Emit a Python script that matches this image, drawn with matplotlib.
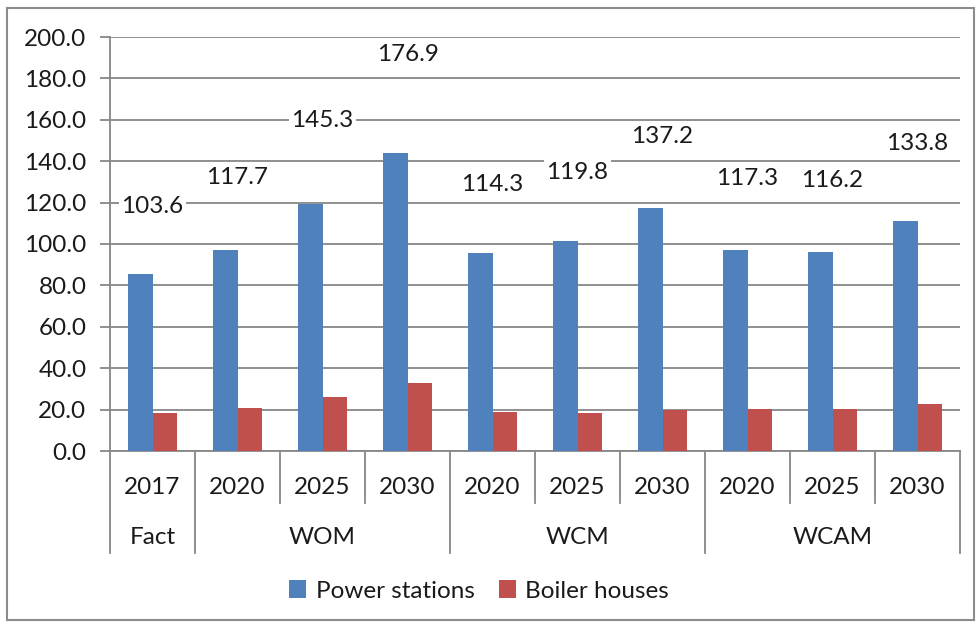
import matplotlib.pyplot as plt
import numpy as np
from matplotlib.patches import Rectangle

years = ["2017", "2020", "2025", "2030", "2020", "2025", "2030", "2020", "2025", "2030"]
groups = ["Fact", "WOM", "WCM", "WCAM"]
group_sizes = [1, 3, 3, 3]
power_stations = [85.4, 97.0, 119.1, 143.9, 95.6, 101.6, 117.4, 97.0, 95.9, 111.2]
boiler_houses = [18.2, 20.7, 26.2, 33.0, 18.7, 18.2, 19.8, 20.3, 20.3, 22.6]
totals = [103.6, 117.7, 145.3, 176.9, 114.3, 119.8, 137.2, 117.3, 116.2, 133.8]

BLUE = "#4F81BD"
RED = "#C0504D"
GRID = "#878787"
TXT = "#1a1a1a"
FS = 17.5

W, H = 976, 628
fig = plt.figure(figsize=(W / 100, H / 100), dpi=100)
plt.rcParams["font.family"] = ["Lato", "DejaVu Sans"]

# plot area in pixels
left_px, right_px, top_px, bottom_px = 110, 960, 37, 451
ax = fig.add_axes([left_px / W, 1 - bottom_px / H,
                   (right_px - left_px) / W, (bottom_px - top_px) / H])
ax_h = bottom_px - top_px

# outer frame
fig.patches.append(Rectangle((7 / W, 8 / H), 967 / W, 612 / H, transform=fig.transFigure,
                             fill=False, edgecolor="#8c8c8c", lw=1.5))

x = np.arange(len(years))
bw = 0.29
ax.bar(x - bw / 2, power_stations, bw, color=BLUE, label="Power stations", zorder=3)
ax.bar(x + bw / 2, boiler_houses, bw, color=RED, label="Boiler houses", zorder=3)

for xi, t in zip(x, totals):
    ax.text(xi, t + 15.5, f"{t:.1f}", ha="center", va="center_baseline", fontsize=FS, color=TXT,
            zorder=4, bbox=dict(fc="white", ec="none", pad=2))

ax.set_xlim(-0.5, len(years) - 0.5)
ax.set_ylim(0, 200)
ticks = np.arange(0, 201, 20)
ax.set_yticks(ticks)
ax.set_yticklabels([f"{v:.1f}" for v in ticks], fontsize=FS, color=TXT)
ax.tick_params(axis="y", length=7, width=1.3, color=GRID, pad=10)
ax.tick_params(axis="x", length=0, labelbottom=False)
ax.grid(axis="y", color=GRID, lw=1.3, zorder=0)
ax.set_axisbelow(True)
for side in ["top", "right"]:
    ax.spines[side].set_visible(False)
for side in ["left", "bottom"]:
    ax.spines[side].set_color(GRID)
    ax.spines[side].set_linewidth(1.3)

# two-level category axis
trans = ax.get_xaxis_transform()
year_y = -36 / ax_h
group_y = -86 / ax_h
short_sep = -52 / ax_h
long_sep = -102 / ax_h

for xi, label in zip(x, years):
    ax.text(xi, year_y, label, transform=trans, ha="center", va="center", fontsize=FS, color=TXT)

bounds = np.concatenate([[0], np.cumsum(group_sizes)]) - 0.5
for b in np.arange(-0.5, len(years)):
    depth = long_sep if b in bounds else short_sep
    ax.plot([b, b], [0, depth], transform=trans, color=GRID, lw=1.3, clip_on=False)

for i, g in enumerate(groups):
    ax.text((bounds[i] + bounds[i + 1]) / 2, group_y, g, transform=trans, ha="center",
            va="center", fontsize=FS, color=TXT)

fig.legend(loc="center", bbox_to_anchor=(479 / W, 1 - 591 / H), ncol=2, frameon=False,
           fontsize=FS, handlelength=0.7, handleheight=0.7, handletextpad=0.4,
           columnspacing=1.0, labelcolor=TXT)

fig.savefig("out.png", dpi=100)
